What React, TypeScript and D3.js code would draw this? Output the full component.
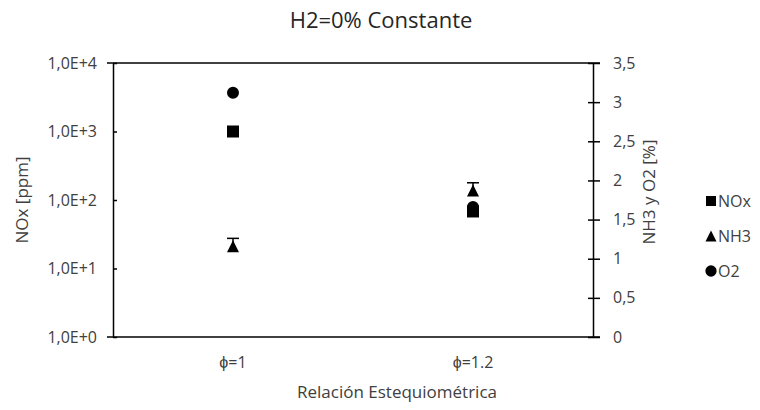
import React, { useEffect, useRef } from 'react'
import * as d3 from 'd3'

// categorias y series
const categories = ['ϕ=1', 'ϕ=1.2']
const noxValues = [1000, 68] // ppm, eje izquierdo (log)
const nh3Values = [1.16, 1.87] // %, eje derecho
const nh3Errors = [0.1, 0.1]
const o2Values = [3.12, 1.66] // %, eje derecho
const leftTicks = [1, 10, 100, 1000, 10000]
const rightTicks = [0, 0.5, 1, 1.5, 2, 2.5, 3, 3.5]
const legendItems = ['NOx', 'NH3', 'O2']

const FONT = '"Open Sans", sans-serif'
const TXT = '#404040'

// triangulo con base abajo, centrado en 0,0
const triPath = (s: number) => {
    const p = d3.path()
    p.moveTo(0, -s / 2)
    p.lineTo(s / 2, s / 2)
    p.lineTo(-s / 2, s / 2)
    p.closePath()
    return p.toString()
}

const App = () => {
    const ref = useRef<SVGSVGElement>(null)

    const drawChart = () => {
        const left = 113, right = 593, top = 63, bottom = 337
        const svg = d3.select(ref.current)
        svg.selectAll('*').remove()

        const x = d3.scaleBand().domain(categories).range([left, right])
        const yLeft = d3.scaleLog().domain([1, 10000]).range([bottom, top])
        const yRight = d3.scaleLinear().domain([0, 3.5]).range([bottom, top])

        // titulo
        svg.append('text')
            .attr('x', 381).attr('y', 28)
            .attr('text-anchor', 'middle')
            .attr('font-family', FONT).attr('font-size', 22)
            .attr('fill', '#262626')
            .text('H2=0% Constante')

        // lineas superior e inferior
        svg.append('line')
            .attr('x1', left - 6).attr('x2', right + 7)
            .attr('y1', top).attr('y2', top)
            .attr('stroke', '#000').attr('stroke-width', 1.5)
        svg.append('line')
            .attr('x1', left - 6).attr('x2', right + 7)
            .attr('y1', bottom).attr('y2', bottom)
            .attr('stroke', '#000').attr('stroke-width', 1.5)

        // eje izquierdo
        const gl = svg.append('g')
            .attr('transform', `translate(${left},0)`)
            .call(d3.axisLeft(yLeft).tickValues(leftTicks).tickSize(7).tickSizeOuter(0)
                .tickFormat(d => '1,0E+' + Math.round(Math.log10(+d))))
            .attr('font-family', FONT).attr('font-size', 16)
        gl.select('.domain').attr('stroke-width', 1.5)
        gl.selectAll('.tick line').attr('x2', 4).attr('stroke-width', 1.5)
        gl.selectAll('.tick text').attr('x', -16).attr('fill', TXT)

        // eje derecho
        const gr = svg.append('g')
            .attr('transform', `translate(${right},0)`)
            .call(d3.axisRight(yRight).tickValues(rightTicks).tickSize(7).tickSizeOuter(0)
                .tickFormat(d => String(d).replace('.', ',')))
            .attr('font-family', FONT).attr('font-size', 16)
        gr.select('.domain').attr('stroke-width', 1.5)
        gr.selectAll('.tick line').attr('x1', -5).attr('stroke-width', 1.5)
        gr.selectAll('.tick text').attr('x', 20).attr('fill', TXT)

        // eje x (solo etiquetas)
        categories.forEach(c => {
            svg.append('text')
                .attr('x', (x(c) ?? 0) + x.bandwidth() / 2).attr('y', 368)
                .attr('text-anchor', 'middle')
                .attr('font-family', FONT).attr('font-size', 16).attr('fill', TXT)
                .text(c)
        })

        // titulos de ejes
        svg.append('text')
            .attr('x', 397).attr('y', 398)
            .attr('text-anchor', 'middle')
            .attr('font-family', FONT).attr('font-size', 17).attr('fill', TXT)
            .text('Relación Estequiométrica')
        svg.append('text')
            .attr('transform', 'translate(28,200) rotate(-90)')
            .attr('text-anchor', 'middle')
            .attr('font-family', FONT).attr('font-size', 17).attr('fill', TXT)
            .text('NOx [ppm]')
        svg.append('text')
            .attr('transform', 'translate(655,192) rotate(-90)')
            .attr('text-anchor', 'middle')
            .attr('font-family', FONT).attr('font-size', 17).attr('fill', TXT)
            .text('NH3 y O2 [%]')

        const cx = (i: number) => (x(categories[i]) ?? 0) + x.bandwidth() / 2
        const sq = d3.symbol().type(d3.symbolSquare).size(144)
        const circ = d3.symbol().type(d3.symbolCircle).size(113)

        // barras de error NH3 (solo hacia arriba visibles)
        nh3Values.forEach((v, i) => {
            const e = nh3Errors[i]
            const g = svg.append('g').attr('stroke', '#000').attr('stroke-width', 1.5)
            g.append('line').attr('x1', cx(i)).attr('x2', cx(i))
                .attr('y1', yRight(v)).attr('y2', yRight(v + e))
            g.append('line').attr('x1', cx(i) - 6).attr('x2', cx(i) + 6)
                .attr('y1', yRight(v + e)).attr('y2', yRight(v + e))
        })

        // NOx
        svg.selectAll('path.nox').data(noxValues).enter().append('path')
            .attr('class', 'nox')
            .attr('d', sq)
            .attr('transform', (d, i) => `translate(${cx(i)},${yLeft(d)})`)
            .attr('fill', '#000')
        // NH3
        svg.selectAll('path.nh3').data(nh3Values).enter().append('path')
            .attr('class', 'nh3')
            .attr('d', triPath(12))
            .attr('transform', (d, i) => `translate(${cx(i)},${yRight(d)})`)
            .attr('fill', '#000')
        // O2
        svg.selectAll('path.o2').data(o2Values).enter().append('path')
            .attr('class', 'o2')
            .attr('d', circ)
            .attr('transform', (d, i) => `translate(${cx(i)},${yRight(d)})`)
            .attr('fill', '#000')

        // leyenda
        const legendShapes = [
            d3.symbol().type(d3.symbolSquare).size(100)() ?? '',
            triPath(11),
            d3.symbol().type(d3.symbolCircle).size(100)() ?? ''
        ]
        legendItems.forEach((name, i) => {
            const ly = 201 + i * 35
            svg.append('path')
                .attr('d', legendShapes[i])
                .attr('transform', `translate(711,${ly})`)
                .attr('fill', '#000')
            svg.append('text')
                .attr('x', 718).attr('y', ly + 6)
                .attr('font-family', FONT).attr('font-size', 16).attr('fill', TXT)
                .text(name)
        })
    }

    useEffect(() => {
        drawChart()
    }, [])

    return (<>
        <svg ref={ref} width={760} height={410} style={{ display: 'block', margin: '-8px', background: '#fff' }}></svg>
    </>)
}

export default App
